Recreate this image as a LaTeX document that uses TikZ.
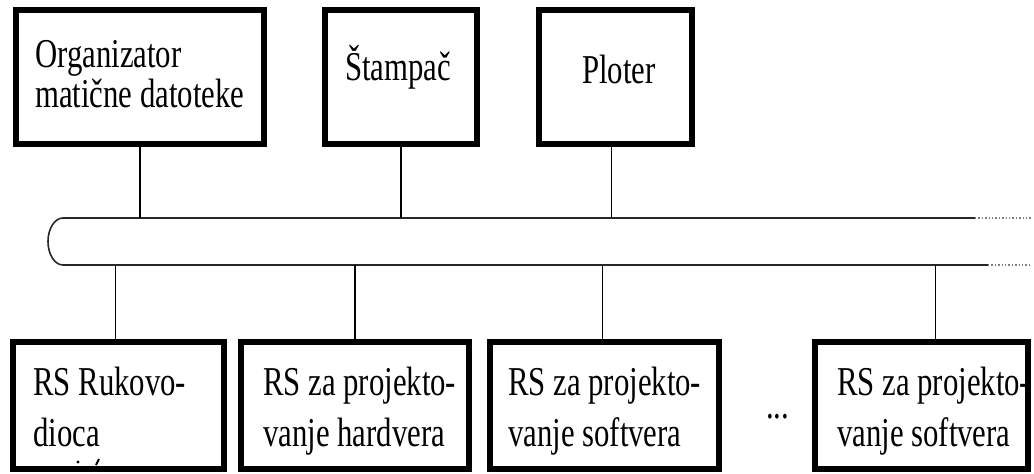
\documentclass[tikz,border=0pt]{standalone}
\usepackage{fontspec}
\setmainfont{Liberation Serif}[FakeStretch=0.75]
\usepackage{tikz}
\usepackage{xcolor}
\definecolor{busgray}{RGB}{40,40,40}

\tikzset{
  box/.style={draw, line width=6pt, fill=white, inner sep=0pt},
  txt/.style={inner sep=0pt, align=left, anchor=base west, font=\fontsize{41}{40}\selectfont},
  lowtxt/.style={txt, font=\fontsize{41}{51}\selectfont},
  bus/.style={draw=busgray, line width=1.6pt},
  link/.style={draw, line width=1.2pt},
  tail/.style={draw=gray, line width=1.4pt, dotted}
}

\begin{document}
\begin{tikzpicture}[x=1pt, y=-1pt]
    \useasboundingbox (0,0) rectangle (1034,474);

    % bus
    \coordinate (bustop) at (63,218);
    \coordinate (busbot) at (63,265);
    \coordinate (topend) at (975,218);
    \coordinate (botend) at (988,265);
    \coordinate (topfar) at (1032,218);
    \coordinate (botfar) at (1032,265);
    \draw[bus] (topend) -- (bustop) arc[start angle=90, end angle=270, x radius=15pt, y radius=23.5pt] -- (botend);
    \draw[tail] (topend) -- (topfar);
    \draw[tail] (botend) -- (botfar);

    % upper row
    \node[box, minimum width=248pt, minimum height=134pt] (org) at (140,77) {};
    \node[box, minimum width=152pt, minimum height=134pt] (stampac) at (401,77) {};
    \node[box, minimum width=153pt, minimum height=134pt] (ploter) at (615.5,77) {};
    \node[txt] (orgtext) at (35,107) {Organizator\\matične datoteke};
    \node[txt] (stampactext) at (345,80) {Štampač};
    \node[txt] (plotertext) at (582,83) {Ploter};

    % lower row
    \node[box, minimum width=211pt, minimum height=127pt] (rs1) at (118.5,405.5) {};
    \node[box, minimum width=228pt, minimum height=127pt] (rs2) at (355,405.5) {};
    \node[box, minimum width=229pt, minimum height=127pt] (rs3) at (604.5,405.5) {};
    \node[box, minimum width=213pt, minimum height=127pt] (rs4) at (921.5,405.5) {};
    \node[lowtxt] (rs1text) at (33,446) {RS Rukovo-\\dioca};
    \node[lowtxt] (rs2text) at (263,446) {RS za projekto-\\vanje hardvera};
    \node[lowtxt] (rs3text) at (508,446) {RS za projekto-\\vanje softvera};
    \node[lowtxt] (rs4text) at (837,446) {RS za projekto-\\vanje softvera};
    \node[txt] (dots) at (766,418) {...};
    % cut-off marks under "dioca"
    \fill (78,462) circle (1.6pt);
    \draw[line width=2pt] (96,465) -- (99,459);

    % links to the bus
    \draw[link] (org.south) -- (org.south |- bustop);
    \draw[link] (stampac.south) -- (stampac.south |- bustop);
    \draw[link] ([xshift=-4pt]ploter.south) -- ([xshift=-4pt]ploter.south |- bustop);
    \draw[link] ([xshift=-3pt]rs1.north) -- ([xshift=-3pt]rs1.north |- busbot);
    \draw[link] (rs2.north) -- (rs2.north |- busbot);
    \draw[link] ([xshift=-2pt]rs3.north) -- ([xshift=-2pt]rs3.north |- busbot);
    \draw[link] ([xshift=14pt]rs4.north) -- ([xshift=14pt]rs4.north |- busbot);
\end{tikzpicture}
\end{document}
